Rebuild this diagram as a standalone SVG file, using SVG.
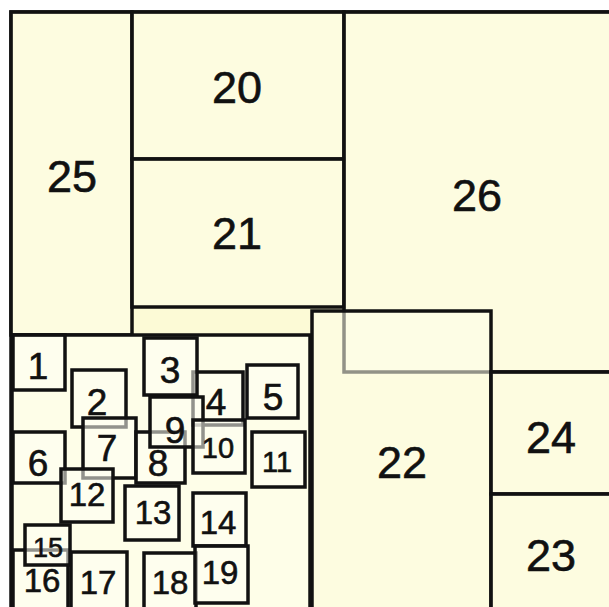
<svg xmlns="http://www.w3.org/2000/svg" width="609" height="607" viewBox="0 0 609 607">
<style>
.big rect{fill:#fefee9;fill-opacity:0.55;stroke:#111;stroke-width:3.5}
.sm rect{fill:#fefef2;fill-opacity:0.55;stroke:#111;stroke-width:3.5}
text{font-family:"Liberation Sans",Arial,sans-serif;fill:#111;stroke:#111;stroke-width:0.6;text-anchor:middle}
.big text{font-size:45px}
.sm text{font-size:37px}
.sm text.d{font-size:33px}
.sm text.n{font-size:29px}
.sm text.t{font-size:27px}
</style>
<rect x="0" y="0" width="609" height="607" fill="#ffffff"/>
<rect id="frame" x="11" y="12" width="620" height="620" fill="#fcfad6" stroke="#111" stroke-width="3.5"/>
<g class="big">
<g id="n25"><rect x="11" y="12" width="121" height="323"/><text x="72" y="192">25</text></g>
<g id="n20"><rect x="132" y="12" width="212" height="147"/><text x="237" y="103">20</text></g>
<g id="n21"><rect x="132" y="159" width="212" height="148"/><text x="237" y="249">21</text></g>
<g id="n26"><rect x="344" y="12" width="280" height="360"/><text x="477" y="211">26</text></g>
<g id="n22"><rect x="312" y="311" width="179" height="310"/><text x="402" y="478">22</text></g>
<g id="n24"><rect x="491" y="372" width="130" height="122"/><text x="551" y="453">24</text></g>
<g id="n23"><rect x="491" y="494" width="130" height="125"/><text x="551" y="571">23</text></g>
<g id="box"><rect x="12" y="335" width="298" height="285" style="fill:#fefee8;fill-opacity:1"/></g>
</g>
<g class="sm">
<g id="n1"><rect x="13" y="335" width="52" height="55"/><text x="38" y="379">1</text></g>
<g id="n2"><rect x="72" y="370" width="54" height="57"/><text x="97" y="415">2</text></g>
<g id="n4"><rect x="193" y="372" width="50" height="53"/><text x="216" y="415">4</text></g>
<g id="n3"><rect x="144" y="338" width="53" height="57"/><text x="170" y="383">3</text></g>
<g id="n5"><rect x="247" y="365" width="51" height="53"/><text x="273" y="410">5</text></g>
<g id="n6"><rect x="13" y="432" width="52" height="51"/><text x="38" y="476">6</text></g>
<g id="n7"><rect x="83" y="418" width="53" height="60"/><text x="107" y="461">7</text></g>
<g id="n8"><rect x="136" y="432" width="49" height="51"/><text x="158" y="476">8</text></g>
<g id="n9"><rect x="150" y="397" width="53" height="50"/><text x="175" y="443">9</text></g>
<g id="n10"><rect x="193" y="420" width="52" height="53"/><text class="n" x="218" y="458">10</text></g>
<g id="n11"><rect x="252" y="432" width="53" height="55"/><text class="n" x="277" y="472">11</text></g>
<g id="n12"><rect x="61" y="469" width="52" height="53"/><text class="d" x="87" y="506">12</text></g>
<g id="n13"><rect x="125" y="486" width="54" height="54"/><text class="d" x="153" y="524">13</text></g>
<g id="n14"><rect x="193" y="493" width="53" height="53"/><text class="d" x="218" y="534">14</text></g>
<g id="n16"><rect x="13" y="550" width="55" height="62"/><text class="d" x="42" y="592">16</text></g>
<g id="n15"><rect x="25" y="525" width="45" height="40"/><text class="t" x="48" y="557">15</text></g>
<g id="n17"><rect x="71" y="552" width="56" height="60"/><text class="d" x="98" y="594">17</text></g>
<g id="n18"><rect x="144" y="553" width="52" height="60"/><text class="d" x="170" y="594">18</text></g>
<g id="n19"><rect x="195" y="546" width="53" height="57"/><text class="d" x="220" y="584">19</text></g>
</g>
<g id="connectors"></g>
</svg>
